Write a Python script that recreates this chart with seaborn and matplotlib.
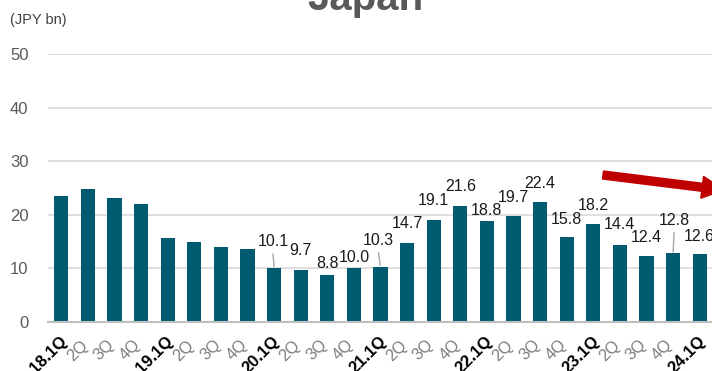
import matplotlib
matplotlib.use("Agg")
import matplotlib.pyplot as plt
import matplotlib.transforms as mtransforms
from matplotlib.patches import FancyArrow
import seaborn as sns
import pandas as pd

# Quarterly figures, JPY bn
quarters = ["18.1Q", "2Q", "3Q", "4Q",
            "19.1Q", "2Q", "3Q", "4Q",
            "20.1Q", "2Q", "3Q", "4Q",
            "21.1Q", "2Q", "3Q", "4Q",
            "22.1Q", "2Q", "3Q", "4Q",
            "23.1Q", "2Q", "3Q", "4Q",
            "24.1Q"]
values = [23.5, 24.9, 23.1, 22.1,
          15.7, 15.0, 13.9, 13.6,
          10.1, 9.7, 8.8, 10.0,
          10.3, 14.7, 19.1, 21.6,
          18.8, 19.7, 22.4, 15.8,
          18.2, 14.4, 12.4, 12.8,
          12.6]
first_labelled = 8  # values are printed from 20.1Q onwards
y_ticks = [0, 10, 20, 30, 40, 50]

# label placement: (dx, dy) in pixels from bar top, and whether a leader line is drawn
label_offsets = {8: (-1, 26, True), 9: (0, 20, False), 10: (0, 11, False),
                 11: (0, 11, False), 12: (-2, 26, True), 13: (0, 20, False),
                 14: (0, 19, False), 15: (0, 20, False), 16: (0, 11, False),
                 17: (0, 19, False), 18: (0, 18, False), 19: (0, 18, False),
                 20: (0, 19, False), 21: (0, 20, False), 22: (0, 18, False),
                 23: (1, 33, True), 24: (0, 18, False)}

plt.rcParams["font.family"] = ["Liberation Sans", "DejaVu Sans"]

df = pd.DataFrame({"pos": range(len(values)), "value": values})

fig = plt.figure(figsize=(7.12, 3.71), dpi=100)
ax = fig.add_axes([48 / 712, 1 - 322 / 371, 665 / 712, 268 / 371])

sns.barplot(data=df, x="pos", y="value", color="#005B70", saturation=1,
            width=0.54, ax=ax, zorder=3)

ax.set_xlim(-0.5, len(values) - 0.5)
ax.set_ylim(0, 50)
ax.set_yticks(y_ticks)
ax.set_yticklabels([str(t) for t in y_ticks], color="#595959", fontsize=12)
ax.tick_params(axis="y", length=0, pad=14)
ax.tick_params(axis="x", length=0, pad=3)
ax.grid(axis="y", color="#d9d9d9", linewidth=1.2, zorder=0)
ax.set_axisbelow(True)
for s in ["top", "right", "left"]:
    ax.spines[s].set_visible(False)
ax.spines["bottom"].set_color("#bfbfbf")
ax.spines["bottom"].set_linewidth(1.5)
ax.spines["bottom"].set_zorder(4)
ax.set_xlabel("")
ax.set_ylabel("")

ax.set_xticks(range(len(quarters)))
ax.set_xticklabels(quarters, rotation=45, ha="right", rotation_mode="anchor", fontsize=12)
quarter_shift = mtransforms.ScaledTranslation(-8 / 100, -11 / 100, fig.dpi_scale_trans)
year_shift = mtransforms.ScaledTranslation(-2 / 100, -7 / 100, fig.dpi_scale_trans)
for lab in ax.get_xticklabels():
    if "." in lab.get_text():
        lab.set_transform(lab.get_transform() + year_shift)
        lab.set_fontweight("bold")
        lab.set_color("black")
    else:
        lab.set_transform(lab.get_transform() + quarter_shift)
        lab.set_color("#7f7f7f")

# value labels
for i in range(first_labelled, len(values)):
    dx, dy, leader = label_offsets[i]
    ax.annotate(f"{values[i]:.1f}", xy=(i, values[i]), xytext=(dx, dy),
                textcoords="offset pixels", ha="center", va="center",
                fontsize=11.5, color="#1a1a1a", zorder=5, annotation_clip=False)
    if leader:
        ax.annotate("", xy=(i, values[i]), xytext=(dx, dy - 12),
                    textcoords="offset pixels",
                    arrowprops=dict(arrowstyle="-", color="#a6a6a6", lw=1,
                                    shrinkA=0, shrinkB=1),
                    annotation_clip=False)

fig.text(10 / 712, 1 - 20 / 371, "(JPY bn)", fontsize=10.5, color="#404040",
         va="center", ha="left")
fig.text(365 / 712, 1 - 10 / 371, "Japan", fontsize=29, fontweight="bold",
         color="#595959", ha="center", va="baseline")

# downward trend arrow, in pixel space (y measured upwards)
arrow = FancyArrow(603, 371 - 175, 121, -15, width=8, head_width=22,
                   head_length=22, length_includes_head=True,
                   color="#C00000", transform=mtransforms.IdentityTransform())
fig.patches.append(arrow)

fig.savefig("out.png", dpi=100)
